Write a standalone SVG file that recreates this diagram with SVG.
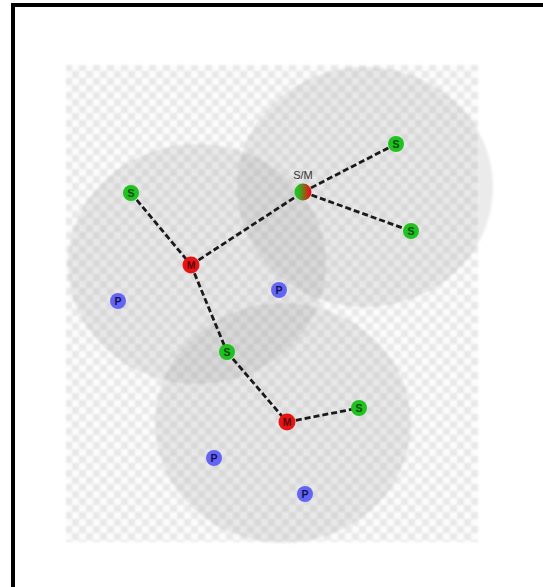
<svg xmlns="http://www.w3.org/2000/svg" width="543" height="587" viewBox="0 0 543 587">
<style>
.zone{fill:#8a8a8a;fill-opacity:0.17}
.link{stroke:#1a1a1a;stroke-width:2.8;stroke-dasharray:6 3;fill:none}
.lbl{font-family:"Liberation Sans",Arial,sans-serif;font-size:10.5px;font-weight:bold;text-anchor:middle}
.s circle{fill:#1fc21f}
.s text{fill:#0a4a0a}
.m circle{fill:#e81414}
.m text{fill:#5a0505}
.p circle{fill:#6565f5}
.p text{fill:#101050}
.cap{font-family:"Liberation Sans",Arial,sans-serif;font-size:11px;fill:#333;text-anchor:middle}
</style>
<defs>
<pattern id="chk" width="14" height="14" patternUnits="userSpaceOnUse" x="65" y="64">
<rect width="14" height="14" fill="#fcfcfc"/>
<rect width="7" height="7" fill="#e8e8e8"/>
<rect x="7" y="7" width="7" height="7" fill="#e8e8e8"/>
</pattern>
<filter id="soft" x="-5%" y="-5%" width="110%" height="110%"><feGaussianBlur stdDeviation="1.2"/></filter>
<linearGradient id="sm" x1="0" y1="0" x2="1" y2="0">
<stop offset="0.2" stop-color="#1fc21f"/>
<stop offset="0.9" stop-color="#e81414"/>
</linearGradient>
</defs>
<rect width="543" height="587" fill="#fff"/>
<g id="frame" fill="#000">
<rect x="11" y="3" width="532" height="4"/>
<rect x="11" y="3" width="4" height="584"/>
</g>
<g id="background" filter="url(#soft)">
<rect x="66" y="65" width="412" height="477" fill="url(#chk)"/>
<ellipse class="zone" cx="197" cy="264" rx="129" ry="120"/>
<ellipse class="zone" cx="365" cy="187" rx="128" ry="120"/>
<ellipse class="zone" cx="283" cy="423" rx="128" ry="120"/>
</g>
<g id="connectors" class="link">
<line x1="131" y1="193" x2="191" y2="265"/>
<line x1="191" y1="265" x2="303" y2="192"/>
<line x1="191" y1="265" x2="227" y2="352"/>
<line x1="227" y1="352" x2="287" y2="422"/>
<line x1="287" y1="422" x2="359" y2="408"/>
<line x1="303" y1="192" x2="396" y2="144"/>
<line x1="303" y1="192" x2="411" y2="231"/>
</g>
<g id="n1" class="s"><circle cx="131" cy="193" r="8"/><text class="lbl" x="131" y="196.5">S</text></g>
<g id="n2" class="m"><circle cx="191" cy="265" r="8.5"/><text class="lbl" x="191" y="268.5">M</text></g>
<g id="n3"><circle cx="303" cy="192" r="8.5" fill="url(#sm)"/><text class="cap" x="303" y="179">S/M</text></g>
<g id="n4" class="s"><circle cx="396" cy="144" r="8"/><text class="lbl" x="396" y="147.5">S</text></g>
<g id="n5" class="s"><circle cx="411" cy="231" r="8"/><text class="lbl" x="411" y="234.5">S</text></g>
<g id="n6" class="p"><circle cx="118" cy="301" r="8"/><text class="lbl" x="118" y="304.5">P</text></g>
<g id="n7" class="p"><circle cx="279" cy="290" r="8"/><text class="lbl" x="279" y="293.5">P</text></g>
<g id="n8" class="s"><circle cx="227" cy="352" r="8"/><text class="lbl" x="227" y="355.5">S</text></g>
<g id="n9" class="m"><circle cx="287" cy="422" r="8.5"/><text class="lbl" x="287" y="425.5">M</text></g>
<g id="n10" class="s"><circle cx="359" cy="408" r="8"/><text class="lbl" x="359" y="411.5">S</text></g>
<g id="n11" class="p"><circle cx="214" cy="458" r="8"/><text class="lbl" x="214" y="461.5">P</text></g>
<g id="n12" class="p"><circle cx="305" cy="494" r="8"/><text class="lbl" x="305" y="497.5">P</text></g>
</svg>
